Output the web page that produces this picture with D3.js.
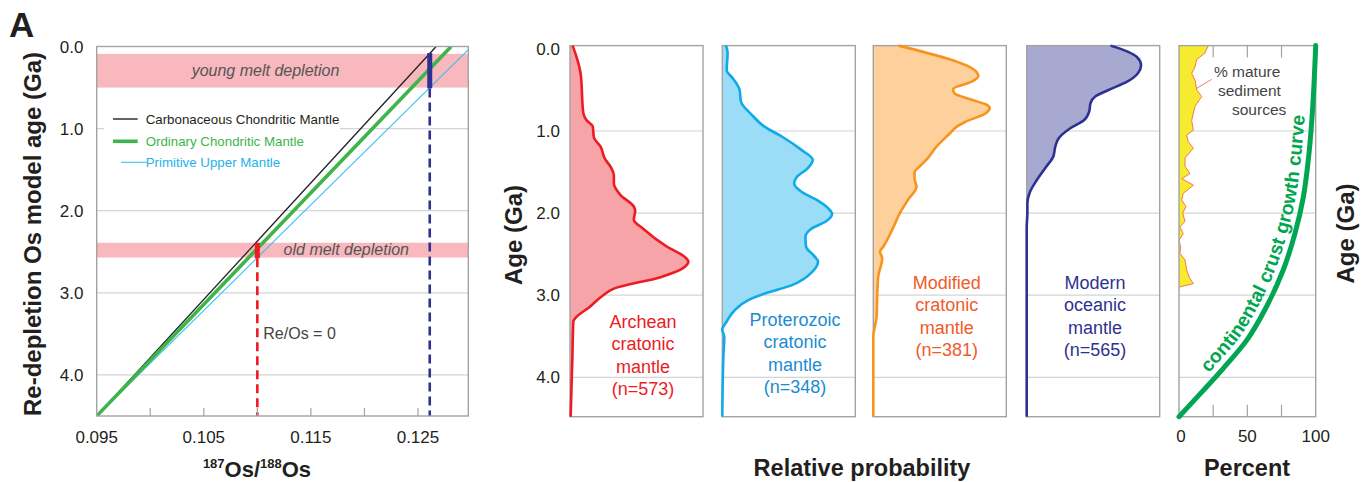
<!DOCTYPE html>
<html lang="en">
<head>
<meta charset="utf-8">
<script src="https://d3js.org/d3.v7.min.js"></script>
<style>
body { margin: 0; background: #fff; }
svg { display: block; font-family: "Liberation Sans", Arial, Helvetica, sans-serif; }
</style>
</head>
<body>
<div id="chart"></div>
<script>
// ---------- data ----------
// left panel: Os evolution lines, [187Os/188Os, age Ga]
var ccmLine = [[0.095, 4.5], [0.1267, 0]];
var ocmLine = [[0.095, 4.5], [0.1281, 0]];
var pumLine = [[0.095, 4.5], [0.1300, 0]];
// melt depletion bands [from age, to age]
var bandNames = ["young melt depletion", "old melt depletion"];
var bandAges = [[0.09, 0.50], [2.39, 2.57]];
// depletion bars [ratio, top age, bottom age]
var meltBars = [[0.110, 2.39, 2.58], [0.1261, 0.08, 0.51]];
var legendNames = ["Carbonaceous Chondritic Mantle", "Ordinary Chondritic Mantle", "Primitive Upper Mantle"];
var ratioLabels = [0.095, 0.105, 0.115, 0.125];
var ratioTicks = [0.100, 0.105, 0.110, 0.115, 0.120, 0.125];
var ageTicks = [0, 1, 2, 3, 4];
var gridAges = [1, 2, 3, 4];

// probability panels, [age Ga, relative probability]
var archean = [[-0.04,0.02],[0.30,0.08],[0.78,0.10],[0.87,0.125],[0.94,0.17],[1.08,0.18],[1.19,0.23],[1.33,0.26],
  [1.45,0.31],[1.54,0.33],[1.64,0.33],[1.78,0.38],[1.92,0.48],[1.97,0.49],[2.08,0.48],[2.19,0.55],[2.41,0.73],
  [2.53,0.86],[2.59,0.89],[2.67,0.85],[2.78,0.68],[2.92,0.33],[3.00,0.25],[3.14,0.15],[3.27,0.045],[3.32,0.025],
  [3.75,0.018],[4.48,0.005]];
var proterozoic = [[-0.04,0.028],[0.05,0.04],[0.26,0.033],[0.36,0.08],[0.50,0.13],[0.64,0.14],[0.80,0.22],[0.95,0.32],
  [1.07,0.45],[1.23,0.595],[1.35,0.68],[1.45,0.645],[1.56,0.56],[1.64,0.54],[1.74,0.595],[1.84,0.71],[1.94,0.795],
  [2.01,0.825],[2.10,0.78],[2.19,0.67],[2.29,0.625],[2.41,0.63],[2.53,0.695],[2.59,0.72],[2.71,0.68],[2.88,0.52],
  [2.98,0.32],[3.06,0.195],[3.18,0.095],[3.32,0.033],[3.42,0.0],[3.51,0.015],[3.75,0.008],[4.48,0.0]];
var modified = [[-0.04,0.19],[0.28,0.775],[0.33,0.79],[0.40,0.74],[0.49,0.60],[0.54,0.61],[0.62,0.74],[0.68,0.85],
  [0.72,0.875],[0.79,0.84],[0.89,0.69],[0.95,0.625],[1.03,0.575],[1.19,0.475],[1.33,0.41],[1.43,0.35],[1.50,0.31],
  [1.58,0.31],[1.68,0.325],[1.84,0.26],[2.00,0.20],[2.21,0.14],[2.41,0.075],[2.47,0.05],[2.55,0.067],[2.77,0.037],
  [2.98,0.03],[3.26,0.025],[3.51,0.0],[4.48,0.0]];
var modern = [[-0.04,0.63],[0.03,0.755],[0.10,0.83],[0.20,0.86],[0.30,0.835],[0.40,0.755],[0.50,0.615],[0.58,0.515],
  [0.66,0.48],[0.76,0.47],[0.87,0.43],[0.97,0.325],[1.09,0.24],[1.19,0.215],[1.31,0.20],[1.45,0.14],[1.60,0.075],
  [1.74,0.025],[1.88,0.005],[2.00,0.005],[2.17,0.0],[4.48,0.0]];
var panelNames = [
  ["Archean", "cratonic", "mantle", "(n=573)"],
  ["Proterozoic", "cratonic", "mantle", "(n=348)"],
  ["Modified", "cratonic", "mantle", "(n=381)"],
  ["Modern", "oceanic", "mantle", "(n=565)"]
];

// right panel, [age Ga, percent]
var crustGrowth = [[-0.04,100],[0.42,98.8],[0.91,97],[1.35,94.6],[1.80,91],[2.25,84.8],[2.69,76.3],[3.14,64],
  [3.55,49.5],[3.89,32.4],[4.16,17.8],[4.48,0]];
var matureSediment = [[-0.04,21.4],[0.05,19],[0.13,13],[0.22,11.7],[0.30,9.3],[0.38,11.7],[0.50,13],[0.58,16.6],
  [0.70,11.7],[0.87,9.3],[0.99,10.5],[1.05,5.6],[1.13,6.8],[1.21,10.5],[1.33,4.4],[1.43,4.4],[1.52,8],[1.58,2],
  [1.66,10.5],[1.76,3.1],[1.84,2],[1.92,5.1],[2.00,2.7],[2.10,4.4],[2.17,0.7],[2.25,3.1],[2.33,0],[2.41,1.2],
  [2.49,0.7],[2.57,4.4],[2.69,5.6],[2.78,7.5],[2.86,10.5],[2.90,0.3]];
var percentLabels = [0, 50, 100];
var percentTicks = [25, 50, 75];

// ---------- chart ----------
var svg = d3.select("#chart").append("svg")
    .attr("width", 1362)
    .attr("height", 482);

var fmtAge = d3.format(".1f");
var gridColor = "#d4d4d4", frameColor = "#a3a3a3", textColor = "#231f20";

// ===== left panel =====
var xOs = d3.scaleLinear().domain([0.095, 0.1297]).range([96.7, 468.3]);
var yOs = d3.scaleLinear().domain([0, 4.5]).range([46.5, 416]);
var left = svg.append("g");

left.append("clipPath").attr("id", "clipOs")
    .append("rect")
    .attr("x", xOs.range()[0]).attr("y", yOs(-0.01))
    .attr("width", xOs.range()[1] - xOs.range()[0])
    .attr("height", yOs(4.5) - yOs(-0.01));

left.selectAll(".grid").data(gridAges).enter().append("line")
    .attr("x1", xOs.range()[0]).attr("x2", xOs.range()[1])
    .attr("y1", function(d) { return yOs(d); }).attr("y2", function(d) { return yOs(d); })
    .attr("stroke", gridColor).attr("stroke-width", 1.2);

left.selectAll(".band").data(bandAges).enter().append("rect")
    .attr("x", xOs.range()[0])
    .attr("width", xOs.range()[1] - xOs.range()[0])
    .attr("y", function(d) { return yOs(d[0]); })
    .attr("height", function(d) { return yOs(d[1]) - yOs(d[0]); })
    .attr("fill", "#f8b8bd");

left.append("text")
    .attr("x", 265.5).attr("y", 76)
    .attr("text-anchor", "middle").attr("font-style", "italic")
    .attr("font-size", 16).attr("fill", "#555")
    .text(bandNames[0]);
left.append("text")
    .attr("x", 346.3).attr("y", 254.5)
    .attr("text-anchor", "middle").attr("font-style", "italic")
    .attr("font-size", 16).attr("fill", "#555")
    .text(bandNames[1]);

// legend background
left.append("rect").attr("x", 104).attr("y", 106).attr("width", 236).attr("height", 64).attr("fill", "#fff");

var osLine = d3.line()
    .x(function(d) { return xOs(d[0]); })
    .y(function(d) { return yOs(d[1]); });

var lineStyles = [
  { data: ccmLine, color: "#231f20", width: 1.3 },
  { data: pumLine, color: "#3cbdf0", width: 1.1 },
  { data: ocmLine, color: "#3db54a", width: 3.6 }
];
lineStyles.forEach(function(s) {
  left.append("path")
      .attr("d", osLine(s.data))
      .attr("fill", "none")
      .attr("stroke", s.color)
      .attr("stroke-width", s.width)
      .attr("clip-path", "url(#clipOs)");
});

var barColors = ["#ed1c24", "#2e3192"];
meltBars.forEach(function(b, i) {
  left.append("line")
      .attr("x1", xOs(b[0])).attr("x2", xOs(b[0]))
      .attr("y1", yOs(b[2])).attr("y2", yOs(4.5))
      .attr("stroke", barColors[i]).attr("stroke-width", 2.6)
      .attr("stroke-dasharray", "9,5");
  left.append("line")
      .attr("x1", xOs(b[0])).attr("x2", xOs(b[0]))
      .attr("y1", yOs(b[1])).attr("y2", yOs(b[2]))
      .attr("stroke", barColors[i]).attr("stroke-width", 5);
});

// legend
var legColors = ["#231f20", "#3db54a", "#3cbdf0"];
var legText = ["#231f20", "#3db54a", "#1fb1ec"];
var legWidths = [1.4, 3.6, 1.1];
var legX1 = [113, 113, 121], legX2 = [137.7, 137.7, 146.7];
var legY = [119, 141.3, 162.3];
legendNames.forEach(function(n, i) {
  left.append("line")
      .attr("x1", legX1[i]).attr("x2", legX2[i])
      .attr("y1", legY[i]).attr("y2", legY[i])
      .attr("stroke", legColors[i]).attr("stroke-width", legWidths[i]);
  left.append("text")
      .attr("x", 145.7).attr("y", legY[i] + 4.6)
      .attr("font-size", 13.3).attr("fill", legText[i])
      .text(n);
});

left.append("text")
    .attr("x", 263.3).attr("y", 338.5)
    .attr("font-size", 16).attr("fill", "#444")
    .text("Re/Os = 0");

// frame and ticks
left.append("rect")
    .attr("x", xOs.range()[0]).attr("y", yOs(0))
    .attr("width", xOs.range()[1] - xOs.range()[0])
    .attr("height", yOs(4.5) - yOs(0))
    .attr("fill", "none").attr("stroke", frameColor).attr("stroke-width", 1.4);

left.selectAll(".xtick").data(ratioTicks).enter().append("line")
    .attr("x1", function(d) { return xOs(d); }).attr("x2", function(d) { return xOs(d); })
    .attr("y1", yOs(4.5)).attr("y2", yOs(4.5) - 8)
    .attr("stroke", frameColor).attr("stroke-width", 1.2);

left.selectAll(".xlab").data(ratioLabels).enter().append("text")
    .attr("x", function(d) { return xOs(d); }).attr("y", 443)
    .attr("text-anchor", "middle").attr("font-size", 17).attr("fill", textColor)
    .text(function(d) { return d3.format(".3f")(d); });

left.selectAll(".ylab").data(ageTicks).enter().append("text")
    .attr("x", 83.5).attr("y", function(d) { return yOs(d); })
    .attr("dy", "0.36em")
    .attr("text-anchor", "end").attr("font-size", 17).attr("fill", textColor)
    .text(function(d) { return fmtAge(d); });

var xTitle = left.append("text")
    .attr("x", 257).attr("y", 477)
    .attr("text-anchor", "middle").attr("font-weight", "bold")
    .attr("font-size", 22).attr("fill", textColor);
xTitle.append("tspan").attr("font-size", 13).attr("dy", -9).text("187");
xTitle.append("tspan").attr("dy", 9).text("Os/");
xTitle.append("tspan").attr("font-size", 13).attr("dy", -9).text("188");
xTitle.append("tspan").attr("dy", 9).text("Os");

left.append("text")
    .attr("transform", "translate(40.5,234) rotate(-90)")
    .attr("text-anchor", "middle").attr("font-weight", "bold")
    .attr("font-size", 24).attr("fill", textColor)
    .text("Re-depletion Os model age (Ga)");

svg.append("text")
    .attr("x", 9).attr("y", 36.5)
    .attr("font-weight", "bold").attr("font-size", 35).attr("fill", textColor)
    .text("A");

// ===== probability panels =====
var yAge = d3.scaleLinear().domain([0, 4]).range([48.9, 377.3]);
var panelLeft = [570, 722.3, 873.3, 1026.7];
var panelW = 133;
var panelData = [archean, proterozoic, modified, modern];
var fills = ["#f6a4a7", "#9bdcf6", "#fdd09c", "#a8a9d1"];
var strokes = ["#ed1c24", "#0fabe8", "#f7941d", "#2e3192"];
var nameColors = ["#ed1c24", "#1d8bd1", "#f15a29", "#2e3192"];
var nameX = [643, 795, 946.7, 1095];
var nameY = [327.7, 326, 289, 289];

panelData.forEach(function(data, i) {
  var g = svg.append("g");
  var xp = d3.scaleLinear().domain([0, 1]).range([panelLeft[i], panelLeft[i] + panelW]);

  g.selectAll(".grid").data(gridAges).enter().append("line")
      .attr("x1", xp(0)).attr("x2", xp(1))
      .attr("y1", function(d) { return yAge(d); }).attr("y2", function(d) { return yAge(d); })
      .attr("stroke", gridColor).attr("stroke-width", 1.2);

  g.append("path")
      .datum(data)
      .attr("d", d3.area()
          .y(function(d) { return yAge(d[0]); })
          .x0(xp(0))
          .x1(function(d) { return xp(d[1]); })
          .curve(d3.curveMonotoneY))
      .attr("fill", fills[i]);

  g.append("rect")
      .attr("x", xp(0)).attr("y", yAge(-0.04))
      .attr("width", panelW).attr("height", yAge(4.48) - yAge(-0.04))
      .attr("fill", "none").attr("stroke", frameColor).attr("stroke-width", 1.4);

  g.append("path")
      .datum(data)
      .attr("d", d3.line()
          .y(function(d) { return yAge(d[0]); })
          .x(function(d) { return xp(d[1]); })
          .curve(d3.curveMonotoneY))
      .attr("fill", "none")
      .attr("stroke", strokes[i])
      .attr("stroke-width", 2.6)
      .attr("stroke-linejoin", "round");

  panelNames[i].forEach(function(t, j) {
    g.append("text")
        .attr("x", nameX[i]).attr("y", nameY[i] + j * 22.4)
        .attr("text-anchor", "middle").attr("font-size", 18)
        .attr("fill", nameColors[i])
        .text(t);
  });
});

svg.selectAll(".agelab").data(ageTicks).enter().append("text")
    .attr("x", 560).attr("y", function(d) { return yAge(d); })
    .attr("dy", "0.36em")
    .attr("text-anchor", "end").attr("font-size", 17).attr("fill", textColor)
    .text(function(d) { return fmtAge(d); });

svg.append("text")
    .attr("transform", "translate(521.5,235) rotate(-90)")
    .attr("text-anchor", "middle").attr("font-weight", "bold")
    .attr("font-size", 24).attr("fill", textColor)
    .text("Age (Ga)");

svg.append("text")
    .attr("x", 862).attr("y", 476)
    .attr("text-anchor", "middle").attr("font-weight", "bold")
    .attr("font-size", 23.5).attr("fill", textColor)
    .text("Relative probability");

// ===== percent panel =====
var xPct = d3.scaleLinear().domain([0, 100]).range([1179, 1315.7]);
var right = svg.append("g");

right.selectAll(".grid").data(gridAges).enter().append("line")
    .attr("x1", xPct(0)).attr("x2", xPct(100))
    .attr("y1", function(d) { return yAge(d); }).attr("y2", function(d) { return yAge(d); })
    .attr("stroke", gridColor).attr("stroke-width", 1.2);

right.append("path")
    .datum(matureSediment)
    .attr("d", d3.area()
        .y(function(d) { return yAge(d[0]); })
        .x0(xPct(0))
        .x1(function(d) { return xPct(d[1]); }))
    .attr("fill", "#f6eb31");
right.append("path")
    .datum(matureSediment)
    .attr("d", d3.line()
        .y(function(d) { return yAge(d[0]); })
        .x(function(d) { return xPct(d[1]); }))
    .attr("fill", "none").attr("stroke", "#f15a40").attr("stroke-width", 0.8);

right.append("rect")
    .attr("x", xPct(0)).attr("y", yAge(-0.04))
    .attr("width", xPct(100) - xPct(0)).attr("height", yAge(4.48) - yAge(-0.04))
    .attr("fill", "none").attr("stroke", frameColor).attr("stroke-width", 1.4);

right.selectAll(".ttick").data(percentTicks).enter().append("line")
    .attr("x1", function(d) { return xPct(d); }).attr("x2", function(d) { return xPct(d); })
    .attr("y1", yAge(-0.04)).attr("y2", yAge(-0.04) + 12)
    .attr("stroke", frameColor).attr("stroke-width", 1.2);
right.selectAll(".btick").data(percentTicks).enter().append("line")
    .attr("x1", function(d) { return xPct(d); }).attr("x2", function(d) { return xPct(d); })
    .attr("y1", yAge(4.48)).attr("y2", yAge(4.48) - 12)
    .attr("stroke", frameColor).attr("stroke-width", 1.2);

var crustLine = d3.line()
    .y(function(d) { return yAge(d[0]); })
    .x(function(d) { return xPct(d[1]); })
    .curve(d3.curveMonotoneY);

right.append("path")
    .attr("d", crustLine(crustGrowth))
    .attr("fill", "none").attr("stroke", "#00a651").attr("stroke-width", 5)
    .attr("stroke-linecap", "round");

// offset path beside the growth curve, for the curved label
var guide = right.append("path")
    .attr("d", crustLine(crustGrowth.slice().reverse()))
    .attr("fill", "none").attr("stroke", "none");
var gn = guide.node(), gl = gn.getTotalLength(), off = 7.5;
var offPts = d3.range(0, gl, 2).map(function(s) {
  var p = gn.getPointAtLength(s), q = gn.getPointAtLength(Math.min(gl, s + 1.5));
  var r = s + 1.5 > gl ? gn.getPointAtLength(s - 1.5) : p;
  var tx = q.x - r.x, ty = q.y - r.y, n = Math.sqrt(tx * tx + ty * ty) || 1;
  return [p.x + off * ty / n, p.y - off * tx / n];
});
right.append("path").attr("id", "crustText")
    .attr("d", d3.line().curve(d3.curveBasis)(offPts))
    .attr("fill", "none");
right.append("text")
    .attr("font-weight", "bold").attr("font-size", 19.3).attr("fill", "#00a651")
    .append("textPath")
    .attr("href", "#crustText")
    .attr("startOffset", 52)
    .text("continental crust growth curve");

right.append("line")
    .attr("x1", 1211.7).attr("y1", 79.3).attr("x2", 1196.7).attr("y2", 88.3)
    .attr("stroke", "#f15a40").attr("stroke-width", 0.8);
var noteLines = ["% mature", "sediment", "sources"];
var noteX = [1214, 1218, 1232];
noteLines.forEach(function(t, j) {
  right.append("text")
      .attr("x", noteX[j]).attr("y", 77 + j * 19.2)
      .attr("font-size", 15.5).attr("fill", "#444")
      .text(t);
});

right.selectAll(".plab").data(percentLabels).enter().append("text")
    .attr("x", function(d) { return xPct(d) + (d === 0 ? 2 : 0); }).attr("y", 441.5)
    .attr("text-anchor", "middle").attr("font-size", 17).attr("fill", textColor)
    .text(function(d) { return d; });

svg.append("text")
    .attr("x", 1247).attr("y", 476)
    .attr("text-anchor", "middle").attr("font-weight", "bold")
    .attr("font-size", 23.5).attr("fill", textColor)
    .text("Percent");

svg.append("text")
    .attr("transform", "translate(1353.5,233.5) rotate(-90)")
    .attr("text-anchor", "middle").attr("font-weight", "bold")
    .attr("font-size", 24).attr("fill", textColor)
    .text("Age (Ga)");
</script>
</body>
</html>
